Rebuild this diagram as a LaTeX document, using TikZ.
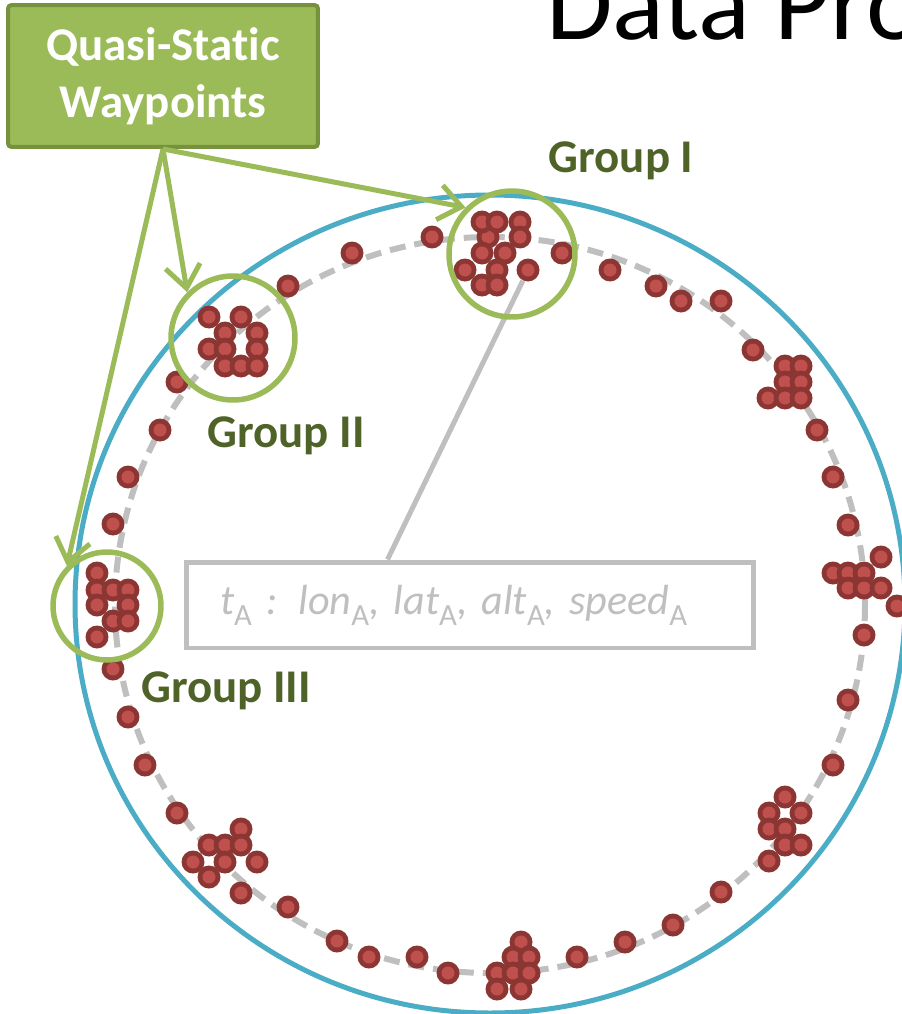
\documentclass[tikz,border=0pt]{standalone}
\usepackage{fontspec}
\setmainfont{Carlito}[Ligatures=NoCommon]
\usepackage{xcolor}
\usepackage{tikz}
\usetikzlibrary{positioning,arrows.meta,calc}
\definecolor{trackred}{RGB}{192,80,77}
\definecolor{trackrim}{RGB}{140,54,52}
\definecolor{leafgreen}{RGB}{155,187,89}
\definecolor{olivegreen}{RGB}{118,146,60}
\definecolor{labelgreen}{RGB}{79,98,40}
\definecolor{orbitblue}{RGB}{75,172,198}
\definecolor{softgray}{RGB}{191,191,191}
\newcommand{\recsub}[1]{\raisebox{-0.26em}{\fontsize{17.5}{17.5}\selectfont\upshape #1}}
\tikzset{
  callout-node/.style={draw=olivegreen, line width=0.08cm, fill=leafgreen, rounded corners=2pt,
    minimum width=6.2cm, minimum height=2.84cm, align=center, text=white,
    font=\fontsize{26.7}{32.4}\selectfont\bfseries, inner sep=0pt},
  group-label/.style={font=\fontsize{26.7}{32}\selectfont\bfseries, text=labelgreen, inner sep=0pt},
  group-ring/.style={circle, draw=leafgreen, line width=0.11cm, inner sep=0pt},
  record-node/.style={draw=softgray, line width=0.1cm, fill=white, text width=10cm,
    inner xsep=0.68cm, inner ysep=0pt, minimum height=1.72cm, align=left,
    font=\fontsize{24}{29}\selectfont\itshape, text=softgray},
  track-dot/.style={circle, fill=trackrim, inner sep=0pt, minimum size=0.46cm,
    path picture={\fill[trackred] (path picture bounding box.center) circle (0.13cm);}},
  waypoint-arrow/.style={-{Straight Barb[length=4.5mm, width=7mm]}, line width=0.1cm, draw=leafgreen},
  link-line/.style={line width=0.1cm, draw=softgray},
  orbit-line/.style={line width=0.1cm, draw=orbitblue},
  track-line/.style={line width=0.12cm, draw=softgray, dash pattern=on 0.32cm off 0.18cm}
}
\begin{document}
\begin{tikzpicture}[x=0.02cm, y=-0.02cm]
\useasboundingbox (0,0) rectangle (902,1014);
\clip (0,0) rectangle (902,1014);
% slide title, running off the top and right edges
\node[anchor=base west, inner sep=0pt, font=\fontsize{61.5}{70}\selectfont] (title) at (546,39) {Data Pro};
% outer envelope and the flown track
\draw[orbit-line] (490,604) ellipse [x radius=415, y radius=409];
\draw[track-line] (490,605) ellipse [x radius=375, y radius=368];
% position reports along the track, bunched where the aircraft lingers
\foreach \x/\y [count=\i] in {432/237, 562/253, 610/270, 656/286, 681/301, 721/301, 753/350,
    785/366, 801/366, 785/382, 801/382, 768/398, 785/398, 801/398, 817/430, 833/477, 848/525,
    881/557, 833/573, 848/573, 864/573, 848/588, 864/588, 881/588, 897/606, 864/635, 848/700, 833/765,
    785/797, 769/813, 801/813, 769/829, 785/829, 785/845, 801/845, 769/861,
    721/892, 673/925, 625/942, 577/957,
    521/942, 513/957, 529/957, 497/973, 513/973, 529/973, 497/989, 521/989,
    448/973, 417/957, 369/957, 337/941, 288/907, 241/893,
    241/829, 209/845, 225/845, 241/845, 193/862, 225/862, 257/862, 209/877,
    177/813, 145/765, 128/717, 113/669,
    97/573, 97/590, 113/590, 128/590, 97/605, 128/605, 113/621, 128/621, 97/637,
    113/524, 128/477, 160/430, 177/382,
    209/317, 241/317, 225/333, 257/333, 209/349, 225/349, 257/349, 225/366, 241/366, 257/366,
    288/286, 352/253}
  \node[track-dot] (dot-\i) at (\x,\y) {};
% the top cluster, kept apart so the record can point at it
\foreach \x/\y [count=\i] in {488/237, 482/222, 497/222, 520/222, 520/237, 482/253, 505/253,
    465/270, 497/270, 528/270, 482/285, 497/285}
  \node[track-dot] (g1-\i) at (\x,\y) {};
% one report spelled out
\node[record-node] (record) at (470,605)
  {t\recsub{A} : lon\recsub{A}, lat\recsub{A}, alt\recsub{A}, speed\recsub{A}};
\coordinate (link-foot) at ($(record.north west)!0.356!(record.north east)$);
\draw[link-line] (link-foot) -- (g1-10);
% rings round the three marked clusters
\node[group-ring, minimum size=2.52cm] (ring-one)   at (512,254) {};
\node[group-ring, minimum size=2.48cm] (ring-two)   at (233,338) {};
\node[group-ring, minimum size=2.16cm] (ring-three) at (107,606) {};
\node[group-label, anchor=base] (lbl-one)   at (621,172) {Group I};
\node[group-label, anchor=base] (lbl-two)   at (286,447) {Group II};
\node[group-label, anchor=base] (lbl-three) at (226,702) {Group III};
% callout and its pointers
\node[callout-node] (qsw) at (163,76) {Quasi-Static\\Waypoints};
\draw[waypoint-arrow] (qsw.south) -- (ring-one.north west);
\draw[waypoint-arrow] (qsw.south) -- (ring-two.north west);
\draw[waypoint-arrow] (qsw.south) -- (ring-three.north west);
\end{tikzpicture}
\end{document}
